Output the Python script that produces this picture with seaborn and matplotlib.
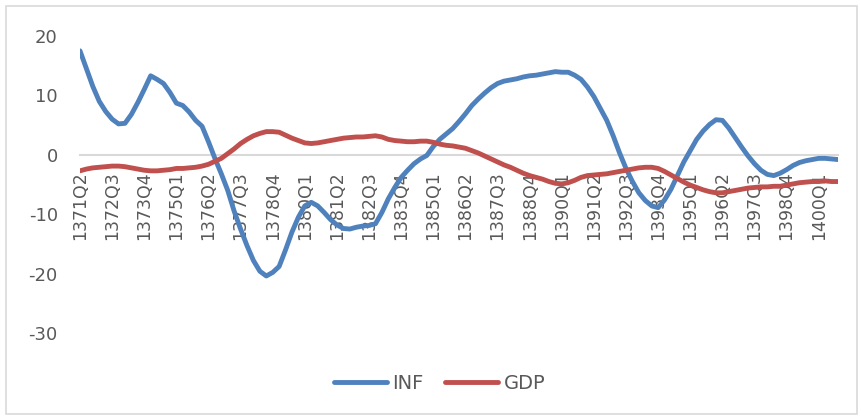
import matplotlib
matplotlib.use("Agg")
import matplotlib.pyplot as plt
from matplotlib.patches import Rectangle
from matplotlib.lines import Line2D
import seaborn as sns
import pandas as pd

# quarters 1371Q2 .. 1400Q4
quarters = ["%dQ%d" % (1371 + (k + 1) // 4, (k + 1) % 4 + 1) for k in range(119)]

inf = [17.5, 14.5, 11.5, 9.0, 7.3, 6.0, 5.2, 5.3, 6.8, 8.8,
       11.0, 13.3, 12.7, 12.0, 10.5, 8.7, 8.3, 7.2, 5.8, 4.8,
       2.2, -0.6, -3.2, -6.0, -9.5, -12.5, -15.3, -17.8, -19.6, -20.4,
       -19.8, -18.8, -16.0, -13.0, -10.5, -8.6, -8.0, -8.6, -9.7, -10.9,
       -11.8, -12.4, -12.5, -12.2, -12.0, -11.9, -11.6, -9.7, -7.4, -5.5,
       -3.8, -2.6, -1.5, -0.7, -0.1, 1.4, 2.6, 3.5, 4.4, 5.6,
       6.9, 8.3, 9.4, 10.4, 11.3, 12.0, 12.4, 12.6, 12.8, 13.1,
       13.3, 13.4, 13.6, 13.8, 14.0, 13.9, 13.9, 13.4, 12.7, 11.4,
       9.8, 7.8, 5.8, 3.2, 0.3, -2.3, -4.5, -6.4, -7.7, -8.6,
       -8.9, -7.6, -5.8, -3.5, -1.2, 0.7, 2.6, 4.0, 5.1, 5.9,
       5.8, 4.5, 2.9, 1.3, -0.2, -1.5, -2.6, -3.3, -3.5, -3.1,
       -2.5, -1.8, -1.3, -1.0, -0.8, -0.6, -0.6, -0.7, -0.8]

gdp = [-2.7, -2.4, -2.2, -2.1, -2.0, -1.9, -1.9, -2.0, -2.2, -2.4,
       -2.6, -2.7, -2.7, -2.6, -2.5, -2.3, -2.3, -2.2, -2.1, -1.9,
       -1.6, -1.1, -0.6, 0.2, 1.0, 1.9, 2.6, 3.2, 3.6, 3.9,
       3.9, 3.8, 3.3, 2.8, 2.4, 2.0, 1.9, 2.0, 2.2, 2.4,
       2.6, 2.8, 2.9, 3.0, 3.0, 3.1, 3.2, 3.0, 2.6, 2.4,
       2.3, 2.2, 2.2, 2.3, 2.3, 2.1, 1.8, 1.6, 1.5, 1.3,
       1.1, 0.7, 0.3, -0.2, -0.7, -1.2, -1.7, -2.1, -2.6, -3.1,
       -3.5, -3.8, -4.1, -4.5, -4.8, -4.9, -4.7, -4.3, -3.8, -3.5,
       -3.4, -3.3, -3.2, -3.0, -2.8, -2.6, -2.4, -2.2, -2.1, -2.1,
       -2.3, -2.8, -3.4, -4.0, -4.6, -5.1, -5.5, -5.9, -6.2, -6.4,
       -6.4, -6.2, -6.0, -5.8, -5.6, -5.5, -5.4, -5.4, -5.3, -5.3,
       -5.1, -4.9, -4.7, -4.6, -4.5, -4.5, -4.4, -4.5, -4.5]

series = ["INF", "GDP"]
colors = ["#4f81bd", "#c0504d"]
yticks = [20, 10, 0, -10, -20, -30]

sns.set_style("white")
plt.rcParams["font.family"] = ["DejaVu Sans"]
text_col = "#595959"

df = pd.DataFrame({"pos": list(range(len(quarters))) * 2,
                   "value": inf + gdp,
                   "series": ["INF"] * len(inf) + ["GDP"] * len(gdp)})

fig = plt.figure(figsize=(8.62, 4.19), dpi=100)
ax = fig.add_axes([80 / 862, 1 - 333 / 419, (838 - 80) / 862, (333 - 36) / 419])
sns.lineplot(data=df, x="pos", y="value", hue="series", hue_order=series,
             palette=colors, linewidth=3.5, legend=False, ax=ax,
             solid_capstyle="round", zorder=3)

ax.set_xlim(0, len(quarters) - 1)
ax.set_ylim(-30, 20)
ax.set_xlabel("")
ax.set_ylabel("")
ax.set_axisbelow(True)
for s in ["top", "right", "left"]:
    ax.spines[s].set_visible(False)
ax.spines["bottom"].set_position(("data", 0))
ax.spines["bottom"].set_color("#d9d9d9")
ax.spines["bottom"].set_linewidth(1.5)
ax.spines["bottom"].set_zorder(1)

ax.set_yticks(yticks)
ax.set_yticklabels([str(v) for v in yticks])
ax.tick_params(axis="y", length=0, pad=16, labelsize=13, labelcolor=text_col)
ax.set_xticks(list(range(0, len(quarters), 5)))
ax.set_xticklabels(quarters[::5], rotation=90)
ax.tick_params(axis="x", length=0, pad=12, labelsize=12.5, labelcolor=text_col)

handles = [Line2D([], [], color=c, linewidth=3.5, solid_capstyle="round") for c in colors]
fig.legend(handles, series, loc="center", bbox_to_anchor=(0.51, 1 - 383 / 419),
           ncol=2, frameon=False, fontsize=14, handlelength=2.7,
           columnspacing=1.1, handletextpad=0.3, labelcolor=text_col)

fig.patches.append(Rectangle((6 / 862, 5 / 419), 851 / 862, 408 / 419,
                             transform=fig.transFigure, fill=False,
                             edgecolor="#d9d9d9", linewidth=1.2))

fig.savefig("out.png", dpi=100)
